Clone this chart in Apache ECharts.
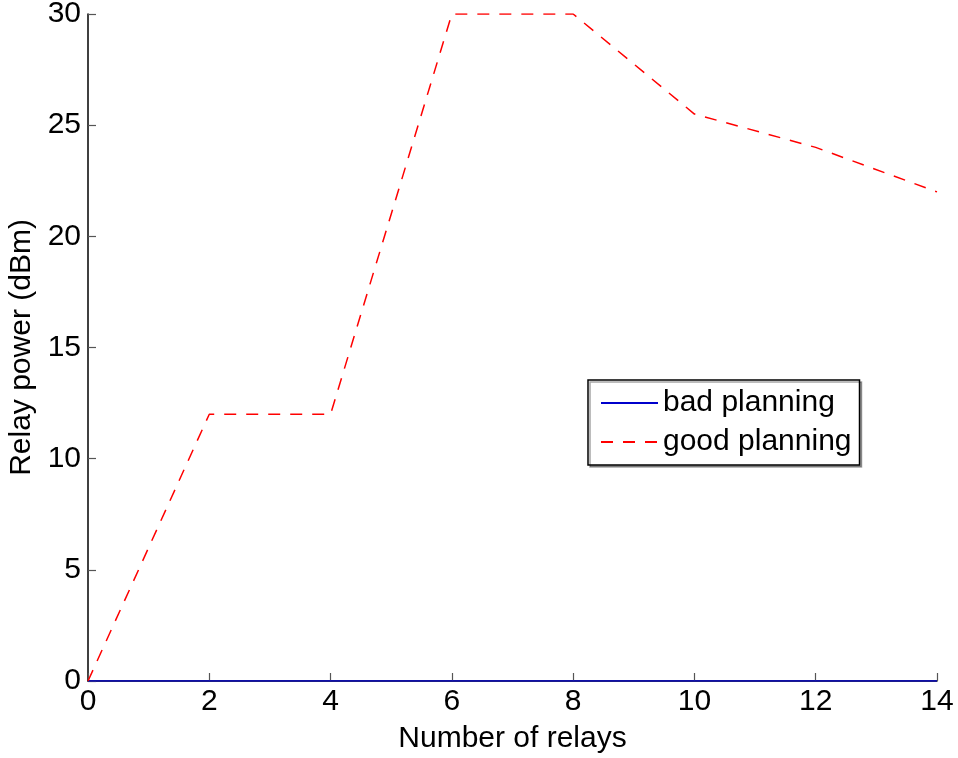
<!DOCTYPE html>
<html>
<head>
<meta charset="utf-8">
<script src="https://cdn.jsdelivr.net/npm/echarts@6/dist/echarts.min.js"></script>
<style>
  html, body { margin: 0; padding: 0; background: #fff; }
  #chart { width: 958px; height: 758px; }
</style>
</head>
<body>
<div id="chart"></div>
<script>
// Number of relays on the horizontal axis
const relays = [0, 2, 4, 6, 8, 10, 12, 14];
// Relay power in dBm for each planning strategy
const badPlanning = [0, 0, 0, 0, 0, 0, 0, 0];
const goodPlanning = [0, 12, 12, 30, 30, 25.5, 24, 22];

const font = 'Liberation Sans, Arial, Helvetica, sans-serif';

const pairs = (xs, ys) => xs.map((x, i) => [x, ys[i]]);

const chart = echarts.init(document.getElementById('chart'), null, { renderer: 'canvas' });
chart.setOption({
  animation: false,
  backgroundColor: '#ffffff',
  grid: { left: 88, right: 21, top: 14, bottom: 77, containLabel: false, outerBoundsMode: 'none' },
  legend: {
    left: 588,
    top: 380,
    orient: 'vertical',
    backgroundColor: '#ffffff',
    borderColor: '#000000',
    borderWidth: 1.5,
    borderRadius: 0,
    padding: [8, 8, 8, 12],
    itemGap: 9,
    itemWidth: 57,
    itemHeight: 14,
    itemStyle: { opacity: 0 },
    shadowColor: 'rgba(0,0,0,0.35)',
    shadowOffsetX: 2,
    shadowOffsetY: 2,
    shadowBlur: 0,
    textStyle: { fontFamily: font, fontSize: 30, color: '#000' },
    data: ['bad planning', 'good planning']
  },
  xAxis: {
    type: 'value',
    min: 0,
    max: 14,
    interval: 2,
    name: 'Number of relays',
    nameLocation: 'middle',
    nameGap: 43,
    nameTextStyle: { fontFamily: font, fontSize: 30, color: '#000' },
    axisLine: { show: true, lineStyle: { color: '#000', width: 1.5 } },
    axisTick: { show: true, inside: true, length: 8, lineStyle: { color: '#555', width: 1.2 } },
    axisLabel: { fontFamily: font, fontSize: 30, color: '#000', margin: 6 },
    splitLine: { show: false }
  },
  yAxis: {
    type: 'value',
    min: 0,
    max: 30,
    interval: 5,
    name: 'Relay power (dBm)',
    nameLocation: 'middle',
    nameGap: 46,
    nameRotate: 90,
    nameTextStyle: { fontFamily: font, fontSize: 30, color: '#000' },
    axisLine: { show: true, lineStyle: { color: '#000', width: 1.5 } },
    axisTick: { show: true, inside: true, length: 8, lineStyle: { color: '#555', width: 1.2 } },
    axisLabel: { fontFamily: font, fontSize: 30, color: '#000', margin: 7 },
    splitLine: { show: false }
  },
  series: [
    {
      name: 'bad planning',
      type: 'line',
      data: pairs(relays, badPlanning),
      showSymbol: false,
      symbol: 'none',
      color: '#0000ff',
      lineStyle: { color: '#0000cc', width: 1.5, type: 'solid' },
      z: 3
    },
    {
      name: 'good planning',
      type: 'line',
      data: pairs(relays, goodPlanning),
      showSymbol: false,
      symbol: 'none',
      color: '#ff0000',
      lineStyle: { color: '#ff0000', width: 1.5, type: [12, 10] },
      z: 4
    }
  ]
});
</script>
</body>
</html>
